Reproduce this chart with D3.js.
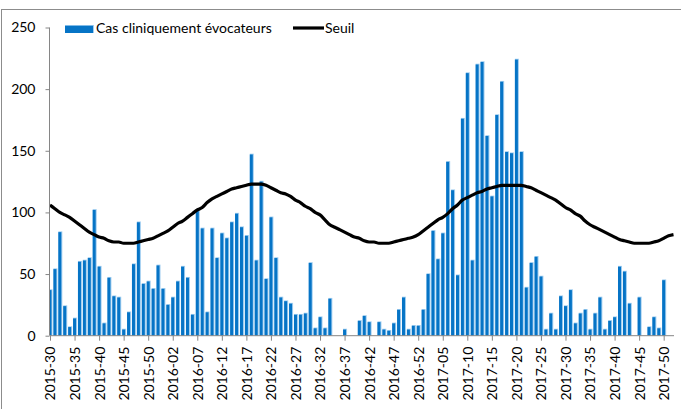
<!DOCTYPE html>
<html>
<head>
<meta charset="utf-8">
<script src="https://cdn.jsdelivr.net/npm/d3@7"></script>
<style>
  html, body { margin: 0; padding: 0; background: #fff; }
  svg { display: block; }
  text { font-family: Lato, "Liberation Sans", sans-serif; fill: #000; }
</style>
</head>
<body>
<svg id="chart" width="681" height="409"></svg>
<script>
// weeks shown: 2015-30 .. 2017-52
var yearWeeks = [[2015, 30, 53], [2016, 1, 52], [2017, 1, 52]];

// weekly clinically suggestive cases
var cases = [
  37, 54, 84, 24, 7, 14, 60, 61, 63, 102, 56, 10, 47, 32, 31, 5,
  19, 58, 92, 42, 44, 38, 57, 38, 25, 31, 44, 56, 47, 17, 102, 87,
  19, 87, 63, 83, 79, 92, 99, 88, 81, 147, 61, 125, 46, 96, 63, 31,
  28, 26, 17, 17, 18, 59, 6, 15, 6, 30, 0, 0, 5, 0, 0, 12,
  16, 11, 0, 11, 5, 4, 10, 21, 31, 5, 8, 8, 21, 50, 85, 62,
  83, 141, 118, 49, 176, 213, 61, 220, 222, 162, 113, 179, 206, 149, 148, 224,
  149, 39, 59, 64, 48, 5, 18, 5, 32, 24, 37, 10, 18, 21, 5, 18,
  31, 5, 12, 15, 56, 52, 26, 0, 31, 0, 7, 15, 6, 45, 0, 0
];

// epidemic threshold
var seuil = [
  106, 103, 100, 98, 96, 93, 90, 87, 84, 82, 80, 79, 77, 76, 76, 75,
  75, 75, 76, 77, 78, 79, 81, 83, 85, 88, 91, 93, 96, 99, 102, 104,
  108, 111, 113, 115, 117, 119, 120, 121, 122, 123, 123, 123, 122, 120, 118, 116,
  115, 113, 110, 108, 105, 103, 100, 98, 94, 90, 88, 86, 84, 82, 80, 79,
  77, 76, 76, 75, 75, 75, 76, 77, 78, 79, 80, 82, 85, 88, 91, 94,
  96, 99, 103, 106, 110, 112, 114, 116, 117, 119, 120, 121, 122, 122, 122, 122,
  122, 121, 120, 118, 116, 114, 112, 110, 107, 104, 102, 99, 97, 93, 90, 88,
  86, 84, 82, 80, 78, 77, 76, 75, 75, 75, 75, 76, 77, 79, 81, 82
];

var yTicks = [0, 50, 100, 150, 200, 250];

var categories = [];
yearWeeks.forEach(function(yw) {
  for (var w = yw[1]; w <= yw[2]; w++) {
    categories.push(yw[0] + "-" + (w < 10 ? "0" + w : w));
  }
});

var svg = d3.select("#chart");
var x0 = 50, x1 = 673.5, yBase = 335.7, yTop = 27.5;

var x = d3.scalePoint().domain(categories).range([x0, x1]);
var y = d3.scaleLinear().domain([0, 250]).range([yBase, yTop]);

// outer frame
svg.append("rect")
  .attr("x", 1.5).attr("y", 9.5)
  .attr("width", 700).attr("height", 420)
  .attr("fill", "none").attr("stroke", "#8c8c8c").attr("stroke-width", 1);

svg.append("defs").append("clipPath").attr("id", "plot")
  .append("rect").attr("x", x0).attr("y", 0).attr("width", 640).attr("height", yBase);

var bw = 3.0;
var bars = svg.append("g").attr("clip-path", "url(#plot)");
bars.selectAll("rect.edge")
  .data(cases.map(function(v, i) { return {c: categories[i], v: v}; }).filter(function(d) { return d.v > 0; }))
  .enter().append("rect")
  .attr("class", "edge")
  .attr("x", function(d) { return x(d.c) - bw / 2; })
  .attr("y", function(d) { return y(d.v) - 0.8; })
  .attr("width", bw + 1)
  .attr("height", function(d) { return yBase - y(d.v) + 0.8; })
  .attr("fill", "#9fcdf0");
bars.selectAll("rect.bar")
  .data(cases.map(function(v, i) { return {c: categories[i], v: v}; }).filter(function(d) { return d.v > 0; }))
  .enter().append("rect")
  .attr("class", "bar")
  .attr("x", function(d) { return x(d.c) - bw / 2; })
  .attr("y", function(d) { return y(d.v); })
  .attr("width", bw)
  .attr("height", function(d) { return yBase - y(d.v); })
  .attr("fill", "#0674c6");

// threshold line
var line = d3.line()
  .x(function(d, i) { return x(categories[i]); })
  .y(function(d) { return y(d); })
  .curve(d3.curveMonotoneX);
svg.append("path")
  .datum(seuil)
  .attr("d", line)
  .attr("fill", "none")
  .attr("stroke", "#000")
  .attr("stroke-width", 3.2)
  .attr("stroke-linejoin", "round");

// y axis
var yAxis = svg.append("g")
  .attr("transform", "translate(" + (x0 - 0.5) + ",0)")
  .call(d3.axisLeft(y).tickValues(yTicks).tickSize(4).tickPadding(10));
yAxis.selectAll("text").style("font-size", "14px");

// x axis
var xAxis = svg.append("g")
  .attr("transform", "translate(0," + yBase + ")")
  .call(d3.axisBottom(x)
    .tickValues(categories.filter(function(c, i) { return i % 5 === 0; }))
    .tickSize(5).tickSizeOuter(0));
xAxis.selectAll("text")
  .style("font-size", "14px")
  .attr("text-anchor", "end")
  .attr("transform", "rotate(-90)")
  .attr("x", -11).attr("y", 0).attr("dy", "0.35em");

svg.selectAll(".domain, .tick line").attr("stroke", "#868686");
svg.selectAll(".tick text").attr("fill", "#000");
yAxis.select(".domain").attr("d", "M0," + yTop + "V" + yBase);
xAxis.select(".domain").attr("d", "M" + x0 + ",0H" + (x1 + 0.5));

// legend
var lg = svg.append("g");
lg.append("rect").attr("x", 65).attr("y", 25).attr("width", 29).attr("height", 8).attr("fill", "#9fcdf0");
lg.append("rect").attr("x", 65).attr("y", 25.8).attr("width", 28).attr("height", 7.2).attr("fill", "#0674c6");
lg.append("text").attr("x", 96).attr("y", 33).style("font-size", "14px").text("Cas cliniquement évocateurs");
lg.append("line").attr("x1", 293).attr("x2", 324).attr("y1", 28).attr("y2", 28)
  .attr("stroke", "#000").attr("stroke-width", 3.2);
lg.append("text").attr("x", 325).attr("y", 33).style("font-size", "14px").text("Seuil");
</script>
</body>
</html>
